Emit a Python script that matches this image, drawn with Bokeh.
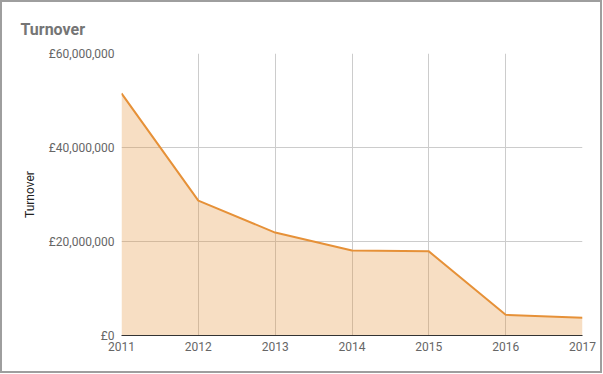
from bokeh.plotting import figure
from bokeh.models import FixedTicker, Range1d
from bokeh.embed import file_html
from bokeh.resources import INLINE

years = [2011, 2012, 2013, 2014, 2015, 2016, 2017]
turnover = [51500000, 28700000, 21900000, 18100000, 17900000, 4400000, 3800000]
y_ticks = [0, 20000000, 40000000, 60000000]
y_tick_labels = ["£0", "£20,000,000", "£40,000,000", "£60,000,000"]
title_text = "Turnover"
y_axis_title = "Turnover"

FONT = "Roboto"
W, H = 602, 373

p = figure(width=W, height=H, output_backend="svg", toolbar_location=None,
           x_range=Range1d(years[0], years[-1]), y_range=Range1d(0, 60000000),
           min_border_left=119, min_border_right=22, min_border_top=51, min_border_bottom=40)
p.styles = {"border": "2px solid #9e9e9e"}
p.outline_line_color = None
p.background_fill_color = "white"
p.border_fill_color = "white"

p.varea(x=years, y1=[0] * len(years), y2=turnover, fill_color="#e69138", fill_alpha=0.3)
p.line(x=years, y=turnover, line_color="#e69138", line_width=2)

p.xaxis.ticker = FixedTicker(ticks=years)
p.yaxis.ticker = FixedTicker(ticks=y_ticks)
p.yaxis.major_label_overrides = {t: l for t, l in zip(y_ticks, y_tick_labels)}
for ax in (p.xaxis, p.yaxis):
    ax.major_tick_line_color = None
    ax.minor_tick_line_color = None
    ax.major_tick_out = 0
    ax.major_tick_in = 0
    ax.major_label_text_font = FONT
    ax.major_label_text_font_size = "12px"
    ax.major_label_text_color = "#666666"
p.yaxis.axis_line_color = None
p.xaxis.axis_line_color = "#333333"
p.xaxis.axis_line_width = 1
p.xaxis.major_label_standoff = 6
p.yaxis.major_label_standoff = 7
p.yaxis.axis_label = y_axis_title
p.yaxis.axis_label_text_font = FONT
p.yaxis.axis_label_text_font_style = "normal"
p.yaxis.axis_label_text_font_size = "12px"
p.yaxis.axis_label_text_color = "#222222"
p.yaxis.axis_label_standoff = 9

p.xgrid.grid_line_color = "#cccccc"
p.ygrid.grid_line_color = "#cccccc"

p.title.text = title_text
p.title.text_font = FONT
p.title.text_font_size = "16px"
p.title.text_color = "#757575"
p.title.text_font_style = "bold"
p.title.offset = -101
p.title.standoff = 30

open("out.html", "w").write(file_html(p, INLINE))
